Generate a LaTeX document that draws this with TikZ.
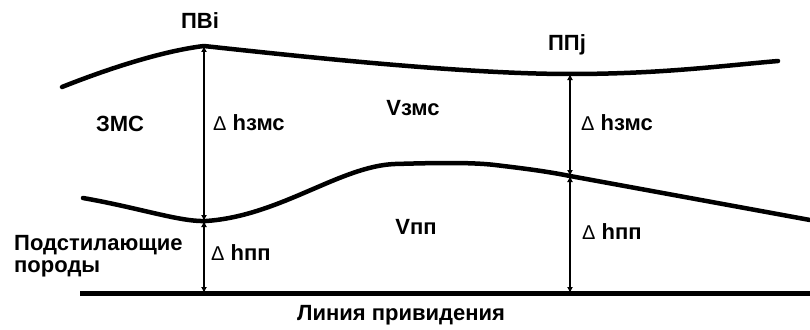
\documentclass[tikz,border=0pt]{standalone}
\usepackage{fontspec}
\setmainfont{Liberation Sans}
\usetikzlibrary{arrows.meta}
\tikzset{
  layer/.style={line width=4.5pt, line cap=round, line join=round},
  baseln/.style={line width=5pt},
  dim/.style={line width=2.5pt, {Latex[length=6pt,width=6pt]}-{Latex[length=6pt,width=6pt]}},
  lbl/.style={font=\fontsize{22}{22}\selectfont\bfseries, inner sep=0pt},
  dl/.style={lbl, anchor=west}
}
\newcommand{\dlt}{{\mdseries\fontsize{20}{22}\selectfont Δ}}
\begin{document}
\begin{tikzpicture}[x=1pt,y=-1pt]
\useasboundingbox (0,0) rectangle (810,329);
% key points
\coordinate (PVtop) at (204,46);
\coordinate (PVmid) at (206,221);
\coordinate (PVbase) at (204,293);
\coordinate (PPtop) at (570,74);
\coordinate (PPmid) at (570,176);
\coordinate (PPbase) at (570,293);
\coordinate (T0) at (62,87);
\coordinate (T1) at (778,61);
\coordinate (M0) at (83,198);
\coordinate (M1) at (810,220);
\coordinate (B0) at (80,293);
\coordinate (B1) at (810,293);
% top layer boundary
\draw[layer] (T0) .. controls (120,64) and (170,50) .. (PVtop)
  .. controls (350,62) and (480,74) .. (PPtop)
  .. controls (660,74) and (720,66) .. (T1);
% middle boundary
\draw[layer] (M0) .. controls (140,208) and (180,222) .. (PVmid)
  .. controls (280,216) and (340,166) .. (395,164)
  .. controls (430,163) and (470,162) .. (495,165)
  .. controls (520,168) and (545,171) .. (PPmid) -- (M1);
% base line
\draw[baseln] (B0) -- (B1);
% dimension arrows
\draw[dim] (PVtop) -- (PVmid -| PVtop);
\draw[dim] (PVmid -| PVtop) -- (PVbase);
\draw[dim] (PPtop) -- (PPmid);
\draw[dim] (PPmid) -- (PPbase);
% labels
\node[lbl] (pvi) at (200,21) {ПВi};
\node[lbl] (ppj) at (567,45) {ППj};
\node[lbl] (zms) at (120,124) {ЗМС};
\node[lbl] (vzms) at (413,108) {Vзмс};
\node[lbl] (vpp) at (416,227) {Vпп};
\node[dl] (dh1) at (213,123) {\dlt\ hзмс};
\node[dl] (dh2) at (581,123) {\dlt\ hзмс};
\node[dl] (dh3) at (211,253) {\dlt\ hпп};
\node[dl] (dh4) at (582,232) {\dlt\ hпп};
\node[lbl, anchor=north west, align=left] (pod) at (14,235) {Подстилающие\\породы};
\node[lbl] (line) at (401,315) {Линия привидения};
\end{tikzpicture}
\end{document}
